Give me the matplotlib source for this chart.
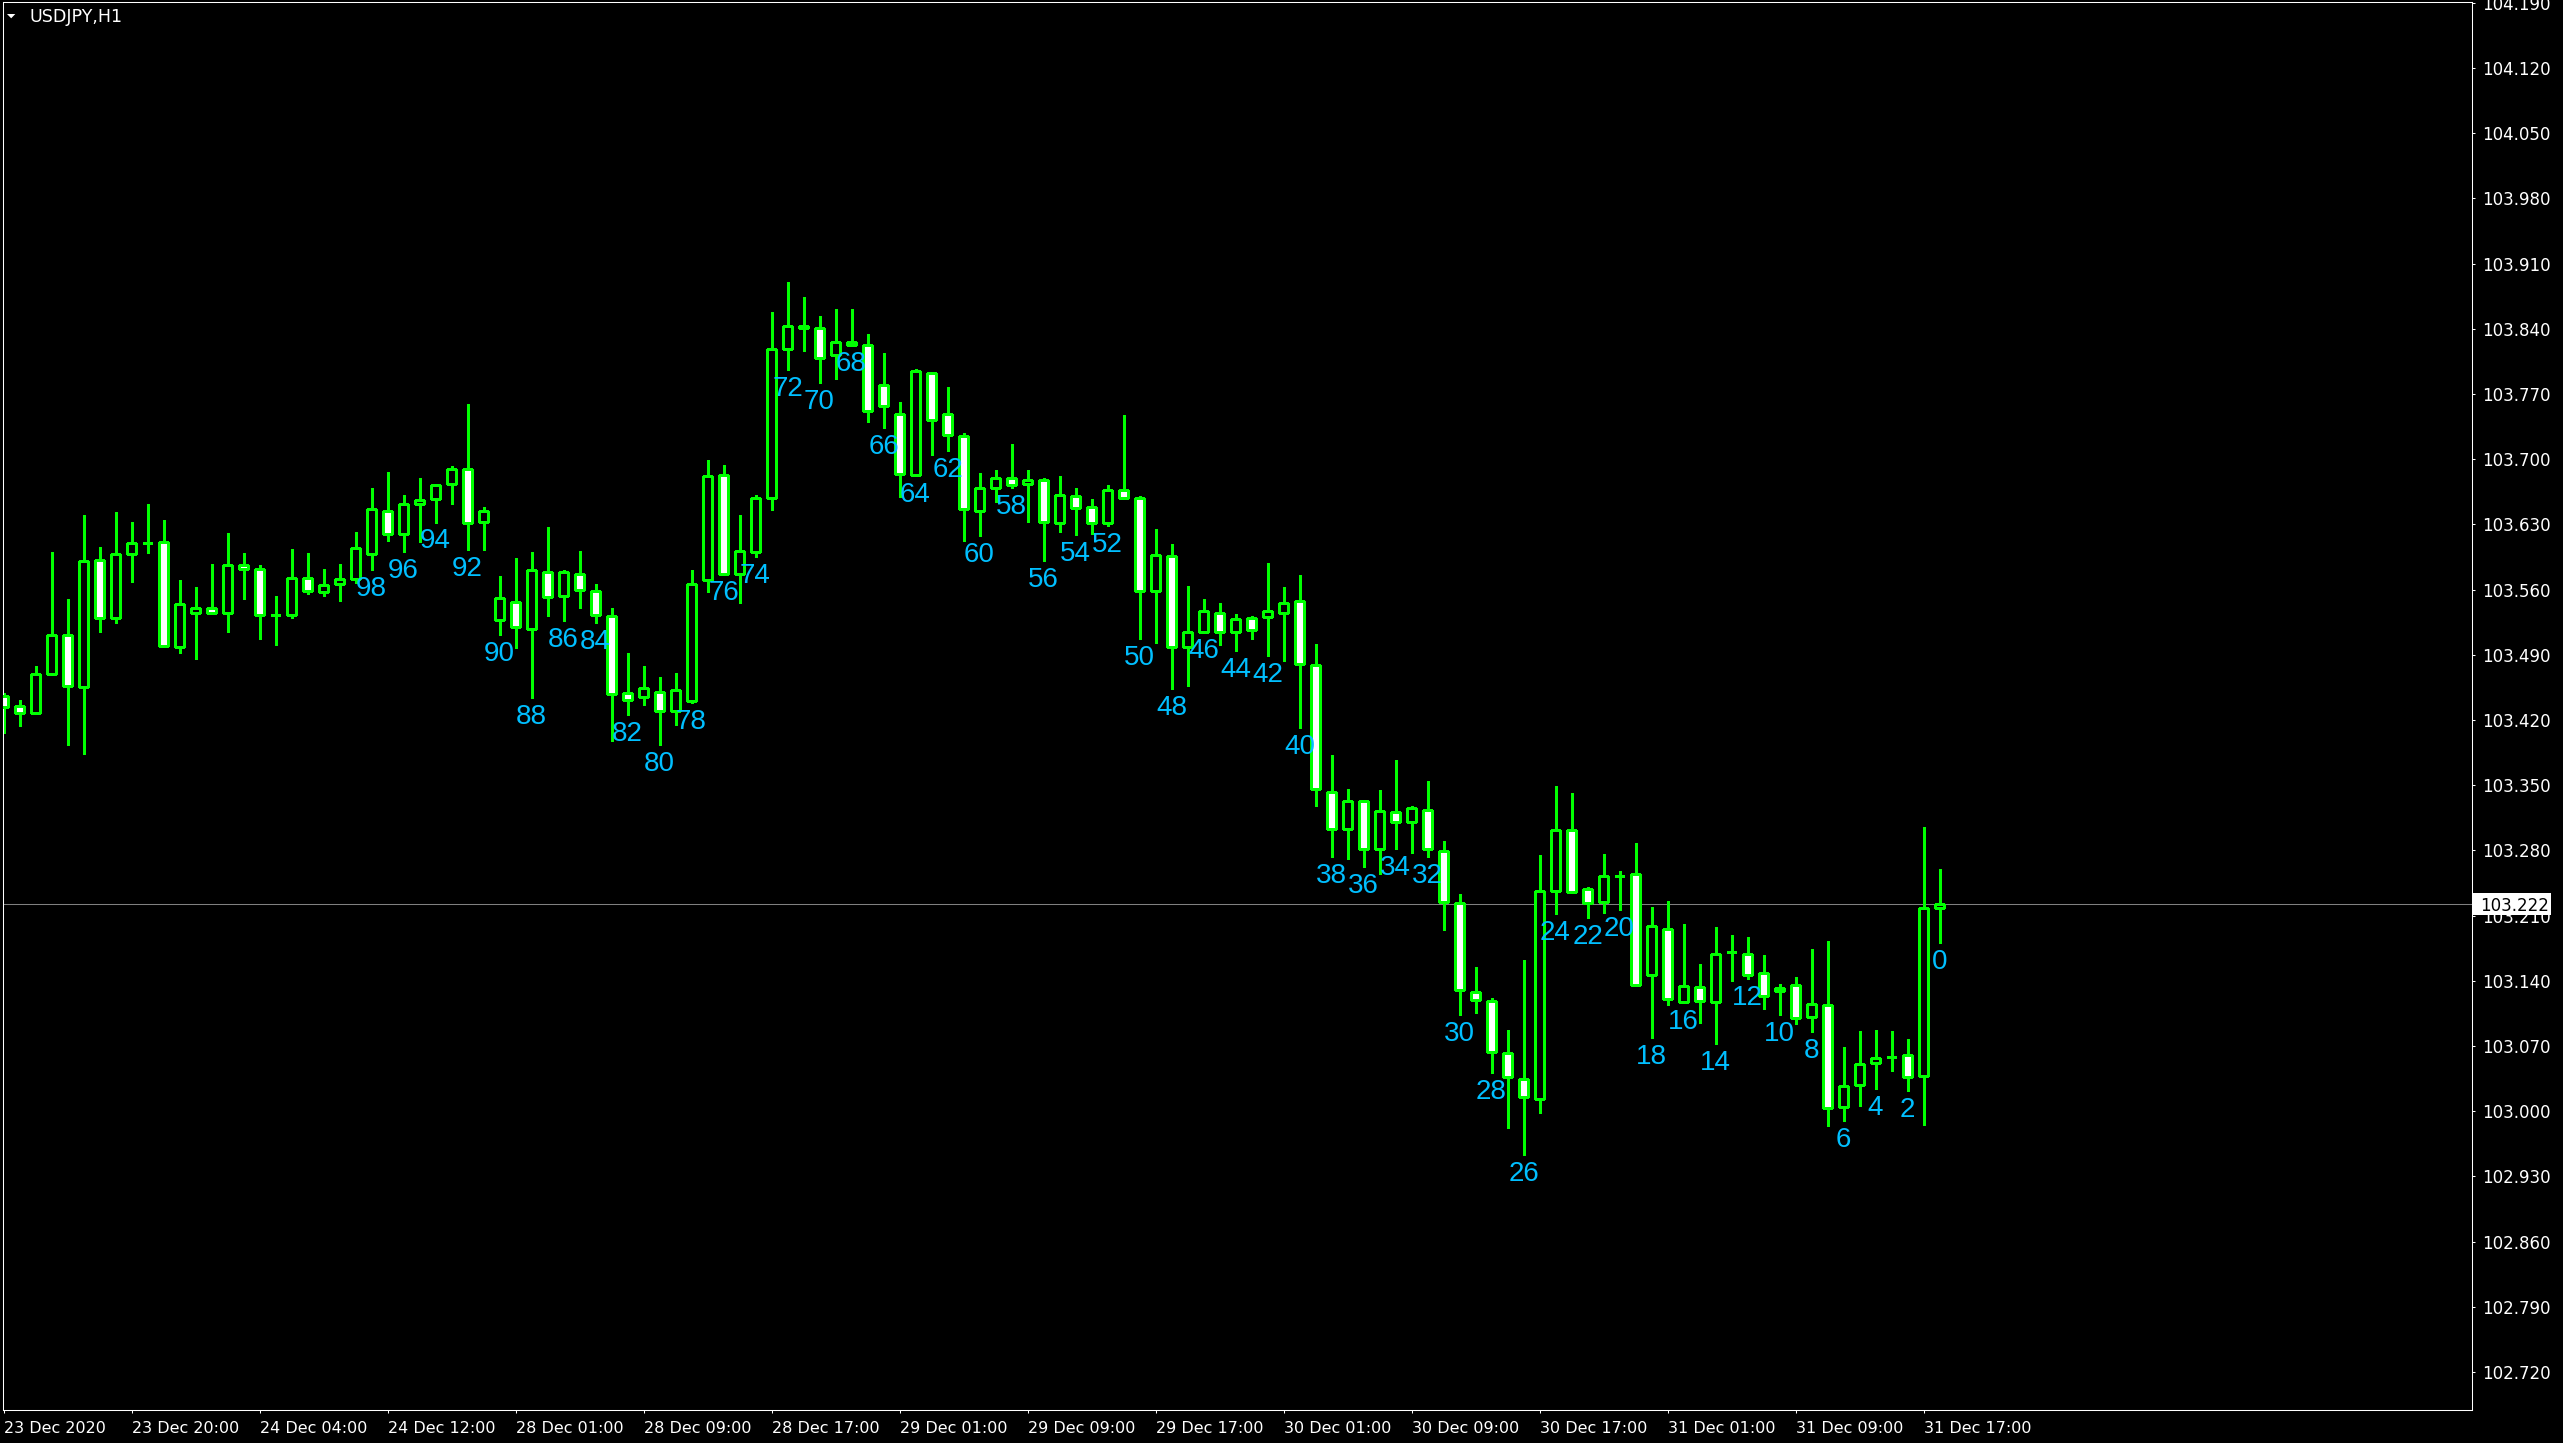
import numpy as np
import matplotlib
matplotlib.use("Agg")
import matplotlib.pyplot as plt
from matplotlib.patches import Rectangle, Polygon

W, H, DPI = 2563, 1443, 100
GREEN = "#00ff00"
LABEL = "#00bfff"

# USDJPY H1, oldest bar first (MT4 shift 121 ... 0)
opens = [
    103.446, 103.435, 103.427, 103.469, 103.511, 103.455, 103.592, 103.529, 103.598, 103.610,
    103.611, 103.498, 103.535, 103.540, 103.535, 103.586, 103.582, 103.533, 103.533, 103.572,
    103.557, 103.566, 103.571, 103.598, 103.644, 103.620, 103.652, 103.657, 103.673, 103.690,
    103.633, 103.527, 103.547, 103.518, 103.579, 103.553, 103.577, 103.559, 103.532, 103.449,
    103.445, 103.450, 103.430, 103.440, 103.570, 103.683, 103.577, 103.600, 103.658, 103.818,
    103.843, 103.841, 103.812, 103.826, 103.823, 103.780, 103.748, 103.683, 103.793, 103.748,
    103.725, 103.644, 103.669, 103.680, 103.673, 103.678, 103.632, 103.661, 103.649, 103.632,
    103.667, 103.658, 103.559, 103.596, 103.498, 103.515, 103.535, 103.515, 103.530, 103.531,
    103.535, 103.548, 103.479, 103.343, 103.303, 103.333, 103.281, 103.321, 103.310, 103.323,
    103.279, 103.224, 103.128, 103.118, 103.062, 103.035, 103.013, 103.236, 103.302, 103.238,
    103.225, 103.252, 103.255, 103.146, 103.196, 103.117, 103.133, 103.117, 103.171, 103.169,
    103.148, 103.132, 103.135, 103.101, 103.114, 103.004, 103.028, 103.052, 103.058, 103.060,
    103.038, 103.218,
]
highs = [
    103.449, 103.441, 103.478, 103.600, 103.550, 103.640, 103.606, 103.643, 103.633, 103.652,
    103.635, 103.570, 103.563, 103.587, 103.621, 103.599, 103.586, 103.553, 103.604, 103.599,
    103.582, 103.587, 103.622, 103.669, 103.686, 103.662, 103.680, 103.673, 103.693, 103.759,
    103.649, 103.575, 103.594, 103.600, 103.627, 103.581, 103.601, 103.566, 103.540, 103.492,
    103.478, 103.466, 103.470, 103.581, 103.699, 103.694, 103.640, 103.662, 103.858, 103.890,
    103.874, 103.854, 103.861, 103.861, 103.834, 103.814, 103.761, 103.797, 103.793, 103.778,
    103.728, 103.685, 103.688, 103.716, 103.688, 103.680, 103.682, 103.669, 103.657, 103.672,
    103.747, 103.660, 103.625, 103.609, 103.564, 103.550, 103.546, 103.534, 103.532, 103.589,
    103.563, 103.576, 103.502, 103.382, 103.346, 103.334, 103.345, 103.377, 103.328, 103.354,
    103.290, 103.233, 103.155, 103.122, 103.087, 103.162, 103.275, 103.349, 103.342, 103.241,
    103.276, 103.258, 103.288, 103.219, 103.226, 103.201, 103.158, 103.198, 103.189, 103.187,
    103.168, 103.137, 103.144, 103.174, 103.183, 103.069, 103.086, 103.087, 103.086, 103.077,
    103.305, 103.260,
]
lows = [
    103.406, 103.414, 103.426, 103.468, 103.393, 103.383, 103.515, 103.524, 103.568, 103.599,
    103.498, 103.492, 103.486, 103.534, 103.514, 103.550, 103.507, 103.500, 103.529, 103.555,
    103.553, 103.548, 103.567, 103.581, 103.612, 103.600, 103.611, 103.632, 103.652, 103.602,
    103.603, 103.511, 103.497, 103.444, 103.532, 103.526, 103.540, 103.524, 103.397, 103.425,
    103.436, 103.393, 103.415, 103.438, 103.557, 103.577, 103.546, 103.595, 103.645, 103.796,
    103.816, 103.782, 103.786, 103.823, 103.740, 103.733, 103.659, 103.682, 103.704, 103.709,
    103.612, 103.617, 103.654, 103.669, 103.633, 103.591, 103.622, 103.619, 103.620, 103.628,
    103.658, 103.507, 103.503, 103.453, 103.457, 103.514, 103.500, 103.494, 103.507, 103.489,
    103.483, 103.411, 103.328, 103.273, 103.271, 103.262, 103.255, 103.281, 103.277, 103.273,
    103.195, 103.103, 103.105, 103.041, 102.982, 102.953, 102.998, 103.212, 103.235, 103.207,
    103.213, 103.216, 103.136, 103.079, 103.114, 103.116, 103.095, 103.072, 103.140, 103.142,
    103.110, 103.103, 103.094, 103.085, 102.984, 102.989, 103.006, 103.024, 103.043, 103.022,
    102.985, 103.181,
]
closes = [
    103.434, 103.428, 103.469, 103.511, 103.456, 103.591, 103.529, 103.598, 103.610, 103.610,
    103.499, 103.544, 103.540, 103.535, 103.586, 103.582, 103.533, 103.533, 103.572, 103.558,
    103.565, 103.571, 103.605, 103.646, 103.620, 103.652, 103.656, 103.672, 103.689, 103.632,
    103.644, 103.551, 103.520, 103.581, 103.552, 103.579, 103.560, 103.533, 103.448, 103.441,
    103.454, 103.430, 103.452, 103.566, 103.682, 103.577, 103.601, 103.658, 103.818, 103.843,
    103.841, 103.809, 103.826, 103.823, 103.752, 103.757, 103.684, 103.795, 103.742, 103.726,
    103.646, 103.669, 103.680, 103.672, 103.678, 103.633, 103.662, 103.648, 103.631, 103.667,
    103.658, 103.558, 103.597, 103.498, 103.515, 103.537, 103.514, 103.528, 103.517, 103.537,
    103.546, 103.480, 103.346, 103.303, 103.333, 103.281, 103.322, 103.310, 103.325, 103.281,
    103.225, 103.130, 103.119, 103.063, 103.037, 103.015, 103.236, 103.302, 103.235, 103.224,
    103.252, 103.252, 103.136, 103.199, 103.120, 103.134, 103.118, 103.169, 103.171, 103.146,
    103.124, 103.129, 103.100, 103.115, 103.003, 103.027, 103.051, 103.057, 103.058, 103.037,
    103.218, 103.222,
]

bid = 103.222
label_max = 98  # bar numbers are written under even bars up to this shift
price_ticks = ["104.190", "104.120", "104.050", "103.980", "103.910", "103.840",
               "103.770", "103.700", "103.630", "103.560", "103.490", "103.420",
               "103.350", "103.280", "103.210", "103.140", "103.070", "103.000",
               "102.930", "102.860", "102.790", "102.720"]
time_labels = ["23 Dec 2020", "23 Dec 20:00", "24 Dec 04:00", "24 Dec 12:00",
               "28 Dec 01:00", "28 Dec 09:00", "28 Dec 17:00", "29 Dec 01:00",
               "29 Dec 09:00", "29 Dec 17:00", "30 Dec 01:00", "30 Dec 09:00",
               "30 Dec 17:00", "31 Dec 01:00", "31 Dec 09:00", "31 Dec 17:00"]
time_step = 8  # one time label every 8 bars

o = np.array(opens)
h = np.array(highs)
l = np.array(lows)
c = np.array(closes)
x = np.arange(len(o))
shift = x[::-1]  # MT4 numbering, 0 = current bar

fig = plt.figure(figsize=(W / DPI, H / DPI), dpi=DPI, facecolor="black")
left, right, top, bottom = 2.5, 2472, 1.5, 1409.5
ax = fig.add_axes([left / W, 1 - bottom / H, (right - left) / W, (bottom - top) / H])
ax.set_facecolor("black")

# bar spacing 16 px, first bar centre at 3.5 px
ax.set_xlim((left - 3.5) / 16, (right - 3.5) / 16)
ax.set_ylim(102.6797, 104.1914)

ax.axhline(bid, color="#808080", lw=0.75, zorder=1)

ax.vlines(x, l, h, color=GREEN, lw=0.75, zorder=2, antialiased=False)
fill = np.where(c >= o, "black", "white")
ax.bar(x, np.abs(c - o), bottom=np.minimum(o, c), width=0.62,
       color=fill, edgecolor=GREEN, linewidth=0.75, zorder=3, antialiased=False)

for xi, n in zip(x, shift):
    if n % 2 == 0 and n <= label_max:
        ax.annotate(str(n), (xi, l[xi]), xytext=(0, -4.3), textcoords="offset points",
                    ha="center", va="top", color=LABEL, fontsize=20,
                    family="Liberation Sans", zorder=4)

for s in ax.spines.values():
    s.set_color("white")
    s.set_linewidth(0.75)

ax.yaxis.tick_right()
ax.set_yticks([float(t) for t in price_ticks], price_ticks)
ax.tick_params(axis="y", direction="out", length=2.2, width=0.75, color="white",
               labelcolor="white", labelsize=12, pad=5.0)

ax.set_xticks(x[::time_step], time_labels, ha="left")
ax.tick_params(axis="x", direction="out", length=2.5, width=0.75, color="white",
               labelcolor="white", labelsize=11.5, pad=5.5)

# current bid box on the price scale
yt = ax.get_yaxis_transform()
ax.add_patch(Rectangle((1.0002, bid - 0.0118), 79 / (right - left), 0.0236,
                       transform=yt, facecolor="white", edgecolor="none",
                       clip_on=False, zorder=10))
ax.text(1 + 8 / (right - left), bid, f"{bid:.3f}", transform=yt, color="black",
        fontsize=12, ha="left", va="center_baseline", clip_on=False, zorder=11)

# symbol caption
fig.add_artist(Polygon([(7 / W, 1 - 14 / H), (15.3 / W, 1 - 14 / H), (11.2 / W, 1 - 18.3 / H)],
                       closed=True, facecolor="white", edgecolor="none",
                       transform=fig.transFigure))
fig.text(30 / W, 1 - 22 / H, "USDJPY,H1", color="white", fontsize=12.6, va="baseline")

fig.savefig("out.png", dpi=DPI, facecolor="black")
